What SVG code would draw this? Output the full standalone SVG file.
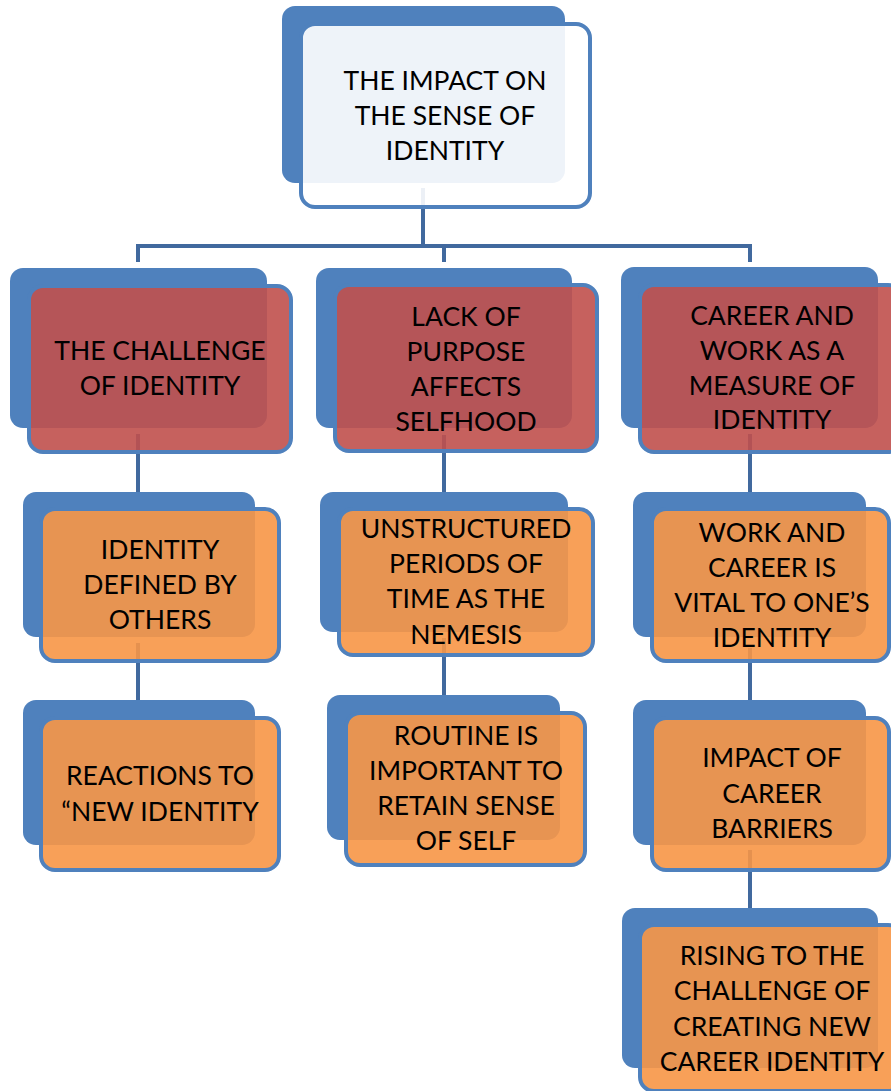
<svg xmlns="http://www.w3.org/2000/svg" width="891" height="1091" viewBox="0 0 891 1091">
<style>
.bk{fill:#4F81BD}
.fr{stroke:#4F81BD;stroke-width:4}
.red{fill:#C0504D;fill-opacity:0.9}
.org{fill:#F79646;fill-opacity:0.9}
.wht{fill:#FFFFFF;fill-opacity:0.9}
.cn{fill:none;stroke:#41699E;stroke-width:4}
text{font-family:Lato,"Liberation Sans",Arial,sans-serif;font-size:26.5px;fill:#000;text-anchor:middle}
</style>
<rect width="891" height="1091" fill="#FFFFFF"/>
<g id="connectors">
<path class="cn" d="M423,188 V246"/>
<path class="cn" d="M138,262 V246 H750 V262"/>
<path class="cn" d="M444,246 V262"/>
<path class="cn" d="M138,434 V492"/>
<path class="cn" d="M138,643 V700"/>
<path class="cn" d="M444,435 V492"/>
<path class="cn" d="M444,638 V695"/>
<path class="cn" d="M750,434 V492"/>
<path class="cn" d="M750,648 V700"/>
<path class="cn" d="M750,850 V908"/>
</g>
<g id="root">
<rect class="bk" x="282" y="6" width="283" height="177" rx="13"/>
<rect class="fr wht" x="301" y="24" width="289" height="183" rx="14"/>
<text x="445" y="90">THE IMPACT ON</text>
<text x="445" y="125">THE SENSE OF</text>
<text x="445" y="160">IDENTITY</text>
</g>
<g id="challenge">
<rect class="bk" x="10" y="268" width="257" height="160" rx="13"/>
<rect class="fr red" x="29" y="286" width="262" height="166" rx="14"/>
<text x="160" y="360">THE CHALLENGE</text>
<text x="160" y="395">OF IDENTITY</text>
</g>
<g id="defined">
<rect class="bk" x="23" y="492" width="232" height="145" rx="13"/>
<rect class="fr org" x="41" y="509" width="238" height="152" rx="14"/>
<text x="160" y="559">IDENTITY</text>
<text x="160" y="594">DEFINED BY</text>
<text x="160" y="629">OTHERS</text>
</g>
<g id="reactions">
<rect class="bk" x="23" y="700" width="232" height="145" rx="13"/>
<rect class="fr org" x="41" y="718" width="238" height="152" rx="14"/>
<text x="160" y="785">REACTIONS TO</text>
<text x="160" y="821">“NEW IDENTITY</text>
</g>
<g id="lack">
<rect class="bk" x="316" y="268" width="256" height="160" rx="13"/>
<rect class="fr red" x="335" y="285" width="262" height="166" rx="14"/>
<text x="466" y="326">LACK OF</text>
<text x="466" y="361">PURPOSE</text>
<text x="466" y="396">AFFECTS</text>
<text x="466" y="431">SELFHOOD</text>
</g>
<g id="unstructured">
<rect class="bk" x="320" y="492" width="248" height="140" rx="13"/>
<rect class="fr org" x="339" y="509" width="254" height="146" rx="14"/>
<text x="466" y="538">UNSTRUCTURED</text>
<text x="466" y="573">PERIODS OF</text>
<text x="466" y="608">TIME AS THE</text>
<text x="466" y="644">NEMESIS</text>
</g>
<g id="routine">
<rect class="bk" x="327" y="695" width="233" height="145" rx="13"/>
<rect class="fr org" x="346" y="713" width="239" height="152" rx="14"/>
<text x="466" y="745">ROUTINE IS</text>
<text x="466" y="780">IMPORTANT TO</text>
<text x="466" y="815">RETAIN SENSE</text>
<text x="466" y="850">OF SELF</text>
</g>
<g id="career">
<rect class="bk" x="621" y="267" width="257" height="161" rx="13"/>
<rect class="fr red" x="640" y="285" width="262" height="167" rx="14"/>
<text x="772" y="325">CAREER AND</text>
<text x="772" y="360">WORK AS A</text>
<text x="772" y="395">MEASURE OF</text>
<text x="772" y="429">IDENTITY</text>
</g>
<g id="vital">
<rect class="bk" x="633" y="492" width="233" height="145" rx="13"/>
<rect class="fr org" x="652" y="509" width="237" height="152" rx="14"/>
<text x="772" y="542">WORK AND</text>
<text x="772" y="577">CAREER IS</text>
<text x="772" y="612">VITAL TO ONE’S</text>
<text x="772" y="647">IDENTITY</text>
</g>
<g id="barriers">
<rect class="bk" x="633" y="700" width="233" height="145" rx="13"/>
<rect class="fr org" x="652" y="718" width="237" height="152" rx="14"/>
<text x="772" y="767">IMPACT OF</text>
<text x="772" y="803">CAREER</text>
<text x="772" y="838">BARRIERS</text>
</g>
<g id="rising">
<rect class="bk" x="622" y="908" width="256" height="160" rx="13"/>
<rect class="fr org" x="640" y="925" width="262" height="166" rx="14"/>
<text x="772" y="965">RISING TO THE</text>
<text x="772" y="1000">CHALLENGE OF</text>
<text x="772" y="1036">CREATING NEW</text>
<text x="772" y="1071">CAREER IDENTITY</text>
</g>
</svg>
